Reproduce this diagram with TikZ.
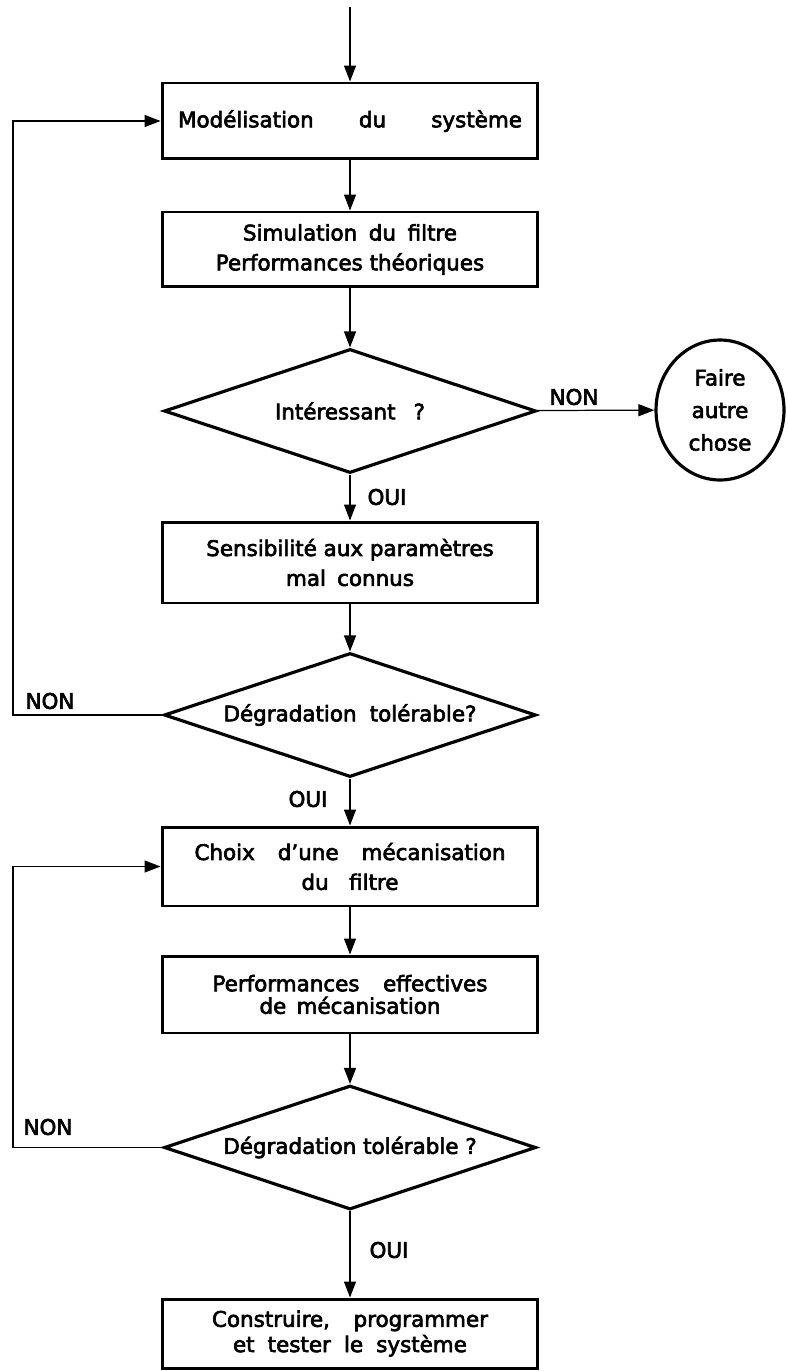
\documentclass[tikz,border=0pt]{standalone}
\usepackage{fontspec}
\setmainfont{DejaVu Sans}[FakeBold=3]
\usetikzlibrary{shapes.geometric,arrows.meta}

\begin{document}
\begin{tikzpicture}[x=0.02cm, y=-0.02cm,
  every node/.style={font=\fontsize{12.2}{17}\selectfont},
  procbox/.style={draw, line width=1.7pt, minimum width=7.52cm, inner sep=0pt, align=center},
  testbox/.style={draw, diamond, aspect=3, line width=1.8pt, minimum width=7.44cm, minimum height=2.48cm, inner sep=0pt},
  flow/.style={-{Triangle[length=3.2mm, width=2.4mm]}, line width=0.7pt},
  lbl/.style={inner sep=0pt}]
  \useasboundingbox (0,0) rectangle (787,1371);

  % main column
  \coordinate (entry) at (350,7);
  \node[procbox, minimum height=1.52cm] (model) at (350,121) {\makebox[6.88cm][s]{Modélisation du système}};
  \node[procbox, minimum height=1.5cm] (simu) at (350,249.5) {\makebox[4.28cm][s]{Simulation du filtre}\\Performances théoriques};
  \node[testbox] (dg1) at (350,411) {\makebox[3cm][s]{Intéressant ?}};
  \node[draw, ellipse, line width=1.8pt, minimum width=2.56cm, minimum height=2.8cm, inner sep=0pt, align=center,
        font=\fontsize{12.2}{18.5}\selectfont] (other) at (720,410) {Faire\\autre\\chose};
  \node[procbox, minimum height=1.62cm] (sens) at (350,562.5) {Sensibilité aux paramètres\\\makebox[2.56cm][s]{mal connus}};
  \node[testbox] (dg2) at (350,715) {\makebox[5.06cm][s]{Dégradation tolérable?}};
  \node[procbox, minimum height=1.58cm] (choix) at (350,866.5) {\makebox[6.22cm][s]{Choix d’une mécanisation}\\\makebox[1.94cm][s]{du filtre}};
  \node[procbox, minimum height=1.54cm, font=\fontsize{12.2}{12.8}\selectfont] (perf) at (350,994.5) {\makebox[5.5cm][s]{Performances effectives}\\\makebox[3.62cm][s]{de mécanisation}};
  \node[testbox] (dg3) at (350,1147.5) {Dégradation tolérable ?};
  \node[procbox, minimum height=1.38cm, font=\fontsize{12.2}{14.4}\selectfont] (build) at (350,1333.5) {\makebox[5.52cm][s]{Construire, programmer}\\\makebox[4.68cm][s]{et tester le système}};

  % answers
  \node[lbl] (non1) at (574,397) {NON};
  \node[lbl] (oui1) at (387,497) {OUI};
  \node[lbl] (non2) at (50,701) {NON};
  \node[lbl] (oui2) at (308,799) {OUI};
  \node[lbl] (non3) at (48,1127) {NON};
  \node[lbl] (oui3) at (389,1250) {OUI};

  % connectors
  \draw[flow] (entry) -- (model);
  \draw[flow] (model) -- (simu);
  \draw[flow] (simu) -- (dg1);
  \draw[flow] (dg1) -- (other);
  \draw[flow] (dg1) -- (sens);
  \draw[flow] (sens) -- (dg2);
  \draw[flow] (dg2) -- (choix);
  \draw[flow] (choix) -- (perf);
  \draw[flow] (perf) -- (dg3);
  \draw[flow] (dg3) -- (build);

  % loops back
  \coordinate (lane) at (13,0);
  \draw[flow] (dg2.west) -- (dg2.west -| lane) |- (model.west);
  \draw[flow] (dg3.west) -- (dg3.west -| lane) |- (choix.west);
\end{tikzpicture}
\end{document}
